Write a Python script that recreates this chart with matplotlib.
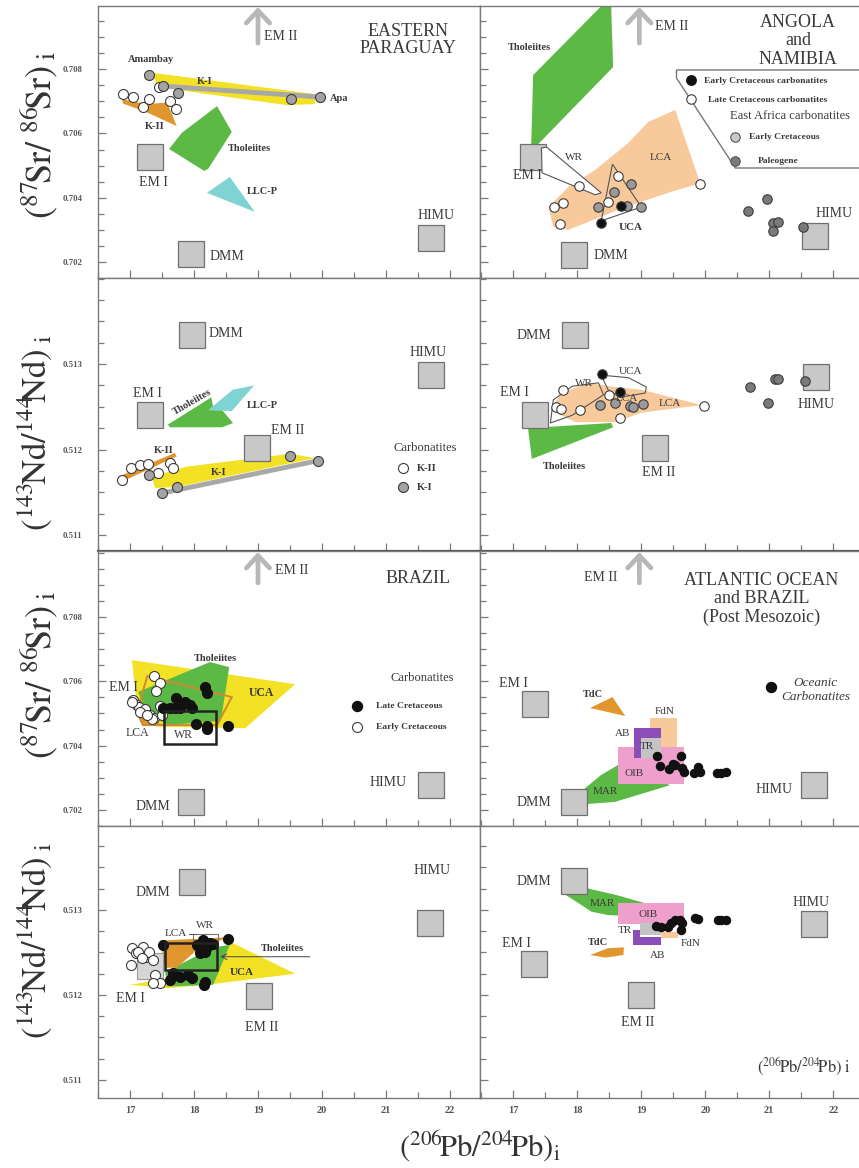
import matplotlib
matplotlib.use('Agg')
import matplotlib.pyplot as plt
from matplotlib.ticker import MultipleLocator, FixedLocator, FormatStrFormatter

plt.rcParams['font.family'] = 'serif'
plt.rcParams['font.serif'] = ['Liberation Serif', 'DejaVu Serif']
plt.rcParams['mathtext.fontset'] = 'stix'

# ---------------- data ----------------
# Eastern Paraguay, Sr
EP_SR_RES = {'EM I': (17.31, 0.70526), 'DMM': (17.95, 0.70226), 'HIMU': (21.70, 0.70276)}
EP_SR_KI_BAND = [(17.36, 0.70788), (19.89, 0.70722), (19.89, 0.70691), (19.45, 0.70688), (17.42, 0.70744)]
EP_SR_KI_LINE_X = [17.52, 19.97]
EP_SR_KI_LINE_Y = [0.70747, 0.70713]
EP_SR_KI_X = [17.30, 17.52, 17.75, 19.52, 19.97]
EP_SR_KI_Y = [0.70781, 0.70747, 0.70726, 0.70707, 0.70713]
EP_SR_KII_POLY = [(16.875, 0.70706), (17.27, 0.70691), (17.58, 0.70696), (17.73, 0.70623), (17.28, 0.70664), (16.89, 0.70693)]
EP_SR_KII_X = [16.89, 17.05, 17.20, 17.30, 17.45, 17.63, 17.72]
EP_SR_KII_Y = [0.70722, 0.70713, 0.70682, 0.70707, 0.70744, 0.70701, 0.70676]
EP_SR_THOL = [(17.61, 0.70552), (17.81, 0.70602), (18.36, 0.70685), (18.59, 0.70605), (18.22, 0.70490), (18.16, 0.70484)]
EP_SR_LLCP = [(18.20, 0.70416), (18.56, 0.70465), (18.95, 0.70357)]

# Angola and Namibia, Sr
AN_SR_RES = {'EM I': (17.31, 0.70527), 'DMM': (17.95, 0.70223), 'HIMU': (21.72, 0.70282)}
AN_SR_THOL = [(17.28, 0.70564), (17.31, 0.70781), (18.375, 0.70995), (18.53, 0.70995), (18.56, 0.70806), (17.36, 0.70561)]
AN_SR_LCA = [(17.55, 0.70372), (17.86, 0.70434), (18.28, 0.70487), (18.80, 0.70571), (19.11, 0.70636), (19.53, 0.70673),
             (19.92, 0.70446), (19.42, 0.70416), (18.75, 0.70372), (17.86, 0.70301), (17.625, 0.70310)]
AN_SR_WR = [(17.44, 0.70555), (17.52, 0.70558), (18.375, 0.70416), (18.28, 0.70410), (17.45, 0.70478)]
AN_SR_UCA = [(18.55, 0.70505), (19.0, 0.70372), (18.375, 0.70329)]
AN_SR_EARLY_X = [18.375, 18.69]
AN_SR_EARLY_Y = [0.70323, 0.70375]
AN_SR_LATE_X = [17.64, 17.78, 17.73, 18.03, 18.48, 18.64, 19.92]
AN_SR_LATE_Y = [0.70372, 0.70384, 0.70319, 0.70437, 0.70388, 0.70468, 0.70443]
AN_SR_EAEC_X = [18.33, 18.58, 18.78, 18.84, 19.0]
AN_SR_EAEC_Y = [0.70372, 0.70419, 0.70375, 0.70443, 0.70372]
AN_SR_EAPG_X = [20.67, 20.97, 21.06, 21.14, 21.06, 21.53]
AN_SR_EAPG_Y = [0.70360, 0.70397, 0.70322, 0.70326, 0.70298, 0.70310]

# Eastern Paraguay, Nd
EP_ND_RES = {'DMM': (17.97, 0.513345), 'EM I': (17.31, 0.51240), 'EM II': (18.98, 0.51202), 'HIMU': (21.70, 0.51287)}
EP_ND_THOL = [(17.59, 0.51229), (18.27, 0.51261), (18.31, 0.51246), (18.44, 0.51246), (18.61, 0.51231), (18.44, 0.51226), (17.625, 0.51226)]
EP_ND_LLCP = [(18.22, 0.51246), (18.61, 0.51270), (18.94, 0.51275), (18.59, 0.51245)]
EP_ND_KI_POLY = [(17.34, 0.51168), (17.89, 0.51180), (19.50, 0.51195), (19.89, 0.51190), (17.73, 0.51156), (17.39, 0.51155)]
EP_ND_KI_LINE_X = [17.5, 19.94]
EP_ND_KI_LINE_Y = [0.51149, 0.51187]
EP_ND_KI_X = [17.30, 17.5, 17.73, 19.5, 19.94]
EP_ND_KI_Y = [0.51170, 0.51149, 0.51156, 0.51192, 0.51187]
EP_ND_KII_POLY = [(16.875, 0.51170), (17.70, 0.51196), (17.73, 0.51192), (16.92, 0.51164)]
EP_ND_KII_X = [16.875, 17.02, 17.16, 17.28, 17.44, 17.625, 17.67]
EP_ND_KII_Y = [0.51164, 0.51178, 0.51182, 0.51183, 0.51173, 0.51184, 0.51178]

# Angola and Namibia, Nd
AN_ND_RES = {'DMM': (17.97, 0.51334), 'EM I': (17.34, 0.51240), 'EM II': (19.22, 0.51202), 'HIMU': (21.73, 0.51285)}
AN_ND_THOL = [(17.23, 0.51225), (18.53, 0.51231), (18.56, 0.51226), (17.29, 0.51189)]
AN_ND_LCA = [(17.58, 0.51246), (17.75, 0.51266), (18.17, 0.51278), (18.59, 0.51273), (19.0, 0.51270), (19.94, 0.51252),
             (19.0, 0.51243), (18.59, 0.51232), (17.98, 0.51232), (17.66, 0.51243)]
AN_ND_WR = [(17.625, 0.51258), (17.92, 0.51274), (18.33, 0.51278), (18.41, 0.51264), (17.92, 0.51240), (17.58, 0.51231)]
AN_ND_UCA = [(18.375, 0.51287), (18.80, 0.51284), (19.08, 0.51273), (19.06, 0.51266), (18.67, 0.51261), (18.48, 0.51270), (18.41, 0.51281)]
AN_ND_EARLY_X = [18.39, 18.67]
AN_ND_EARLY_Y = [0.51288, 0.51267]
AN_ND_LATE_X = [17.77, 17.66, 17.75, 18.05, 18.5, 18.66, 19.98]
AN_ND_LATE_Y = [0.51270, 0.51250, 0.51247, 0.51246, 0.51264, 0.51237, 0.51251]
AN_ND_EAEC_X = [18.36, 18.59, 18.83, 18.875, 19.02]
AN_ND_EAEC_Y = [0.51252, 0.51254, 0.51251, 0.51250, 0.51253]
AN_ND_EAPG_X = [20.70, 21.09, 21.14, 21.56, 20.98]
AN_ND_EAPG_Y = [0.51273, 0.51282, 0.51282, 0.51280, 0.51254]

# Brazil, Sr
BR_SR_RES = {'DMM': (17.96, 0.70225), 'HIMU': (21.70, 0.70277)}
BR_SR_UCA = [(17.03, 0.70666), (19.58, 0.70591), (18.80, 0.70454), (17.42, 0.70459), (17.10, 0.70537)]
BR_SR_THOL = [(17.125, 0.70567), (18.25, 0.70660), (18.55, 0.70644), (18.42, 0.70477), (17.58, 0.70464), (17.27, 0.70505)]
BR_SR_LCA = [(17.27, 0.70616), (18.59, 0.70551), (18.36, 0.70464), (17.20, 0.70464), (17.11, 0.70505)]
BR_SR_LCA_FILL = [(17.13, 0.70490), (17.55, 0.70464), (17.20, 0.70464)]
BR_SR_WR = (17.53, 18.34, 0.70405, 0.70508)
BR_SR_EARLY_X = [17.375, 17.47, 17.41, 17.05, 17.11, 17.14, 17.23, 17.31, 17.375, 17.34, 17.47, 17.5, 17.03, 17.16, 17.27]
BR_SR_EARLY_Y = [0.70617, 0.70595, 0.70570, 0.70542, 0.70526, 0.70520, 0.70514, 0.70495, 0.70486, 0.70483, 0.70523, 0.70495,
                 0.70536, 0.70505, 0.70495]
BR_SR_LATE_X = [17.52, 17.625, 17.70, 17.72, 17.78, 17.86, 17.94, 17.97, 18.17, 18.2, 18.03, 18.2, 18.2, 18.53]
BR_SR_LATE_Y = [0.70517, 0.70517, 0.70517, 0.70548, 0.70517, 0.70536, 0.70526, 0.70517, 0.70582, 0.70564, 0.70467, 0.70461,
                0.70452, 0.70461]

# Atlantic Ocean and Brazil, Sr
AT_SR_RES = {'EM I': (17.34, 0.70529), 'DMM': (17.945, 0.70225), 'HIMU': (21.70, 0.70277)}
AT_SR_TDC = [(18.2, 0.70517), (18.55, 0.70551), (18.75, 0.70492)]
AT_SR_FDN = (19.14, 19.56, 0.70377, 0.70486)
AT_SR_AB = [(18.89, 0.70361), (18.89, 0.70455), (19.31, 0.70455), (19.31, 0.70424), (19.0, 0.70424), (19.0, 0.70361)]
AT_SR_TR = (19.0, 19.31, 0.70361, 0.70424)
AT_SR_OIB = (18.64, 19.67, 0.70281, 0.70396)
AT_SR_MAR = [(18.02, 0.70237), (18.125, 0.70268), (18.375, 0.70309), (18.64, 0.70340), (19.45, 0.70277), (18.59, 0.70225), (18.125, 0.70218)]
AT_SR_OC_X = [19.25, 19.30, 19.44, 19.5, 19.53, 19.625, 19.64, 19.66, 19.83, 19.89, 19.91, 20.19, 20.25, 20.33]
AT_SR_OC_Y = [0.70368, 0.70337, 0.70327, 0.70343, 0.70340, 0.70368, 0.70330, 0.70318, 0.70315, 0.70334, 0.70318, 0.70315,
              0.70315, 0.70318]

# Brazil, Nd
BR_ND_RES = {'DMM': (17.97, 0.51333), 'EM II': (19.02, 0.51199), 'HIMU': (21.69, 0.51285)}
BR_ND_EM1 = (17.31, 0.51234)
BR_ND_UCA = [(17.0, 0.51212), (17.58, 0.51219), (18.61, 0.51261), (19.58, 0.51225), (18.2, 0.51212), (17.58, 0.51208)]
BR_ND_THOL = [(17.55, 0.51227), (18.3, 0.51256), (18.56, 0.51259), (18.3, 0.51212), (17.58, 0.51210)]
BR_ND_LCA = [(17.47, 0.51264), (18.56, 0.51268), (18.09, 0.51256), (17.73, 0.51232), (17.55, 0.51232)]
BR_ND_WR = (17.98, 18.375, 0.51262, 0.51272)
BR_ND_BOX = (17.55, 18.36, 0.51229, 0.51261)
BR_ND_EARLY_X = [17.03, 17.02, 17.09, 17.2, 17.25, 17.30, 17.36, 17.39, 17.47, 17.36, 17.125, 17.19]
BR_ND_EARLY_Y = [0.51255, 0.51235, 0.51249, 0.51256, 0.51245, 0.51251, 0.51241, 0.51224, 0.51214, 0.51214, 0.51251, 0.51244]
BR_ND_LATE_X = [17.52, 17.67, 17.625, 17.78, 17.91, 17.97, 18.05, 18.09, 18.14, 18.17, 18.25, 18.3, 18.17, 18.16, 18.53, 18.2, 18.09]
BR_ND_LATE_Y = [0.51259, 0.51226, 0.51218, 0.51221, 0.51224, 0.51220, 0.51259, 0.51255, 0.51265, 0.51251, 0.51261, 0.51260,
                0.51215, 0.51212, 0.51266, 0.51256, 0.51249]

# Atlantic Ocean and Brazil, Nd
AT_ND_RES = {'DMM': (17.95, 0.51334), 'EM I': (17.33, 0.51237), 'EM II': (18.99, 0.51200), 'HIMU': (21.70, 0.51284)}
AT_ND_MAR = [(17.75, 0.51321), (18.125, 0.51326), (18.59, 0.51318), (19.06, 0.51308), (19.11, 0.51292), (18.48, 0.51294),
             (18.22, 0.51298), (18.02, 0.51308)]
AT_ND_OIB = (18.64, 19.66, 0.51284, 0.51308)
AT_ND_TR = (18.98, 19.31, 0.51271, 0.51285)
AT_ND_AB = [(18.875, 0.51259), (18.875, 0.51276), (18.98, 0.51276), (18.98, 0.51268), (19.31, 0.51268), (19.31, 0.51259)]
AT_ND_FDN = (19.31, 19.58, 0.51267, 0.51274)
AT_ND_TDC = [(18.2, 0.51247), (18.48, 0.51255), (18.73, 0.51256), (18.72, 0.51247), (18.44, 0.51244)]
AT_ND_OC_X = [19.23, 19.31, 19.42, 19.47, 19.53, 19.61, 19.64, 19.625, 19.84, 19.89, 20.2, 20.25, 20.33]
AT_ND_OC_Y = [0.51281, 0.51280, 0.51280, 0.51285, 0.51288, 0.51288, 0.51285, 0.51276, 0.51291, 0.51289, 0.51288, 0.51288, 0.51288]

SR_TICKS = [0.702, 0.704, 0.706, 0.708]
ND_TICKS = [0.511, 0.512, 0.513]
X_TICKS = [17, 18, 19, 20, 21, 22]

# ---------------- styling ----------------
TXT = '#3a3a3a'
GREEN = '#5cb945'
YELLOW = '#f3e125'
ORANGE = '#e0962d'
PEACH = '#f7c99b'
CYAN = '#80d3d3'
BAND = '#a8a8a8'
PURPLE = '#8b4db8'
PINK = '#ef9fcb'
TRGRAY = '#c4c4c4'
SQ_FC = '#c8c8c8'
SQ_EC = '#707070'
SPINE = '#7a7a7a'


def poly(ax, pts, fc, z=2, ec='none', lw=0.0):
    xs = [p[0] for p in pts]
    ys = [p[1] for p in pts]
    ax.fill(xs, ys, facecolor=fc, edgecolor=ec, linewidth=lw, zorder=z)


def rect(ax, r, fc='none', ec='none', lw=0.0, z=2):
    x0, x1, y0, y1 = r
    poly(ax, [(x0, y0), (x1, y0), (x1, y1), (x0, y1)], fc, z=z, ec=ec, lw=lw)


def squares(ax, res, fc=SQ_FC, ec=SQ_EC):
    for name, (x, y) in res.items():
        ax.plot([x], [y], marker='s', ms=18.5, mfc=fc, mec=ec, mew=0.9, ls='none', zorder=4)


def dots(ax, xs, ys, fc, ec='#3c3c3c', ms=7.2, z=6):
    ax.plot(xs, ys, 'o', ms=ms, mfc=fc, mec=ec, mew=0.8, ls='none', zorder=z)


def lab(ax, x, y, s, size=10, ha='center', weight='normal', **kw):
    ax.text(x, y, s, fontsize=size, ha=ha, va='center', color=TXT, fontweight=weight, zorder=9, **kw)


def em2_arrow(ax, x, y0, y1):
    ax.annotate('', xy=(x, y1), xytext=(x, y0),
                arrowprops=dict(arrowstyle='->,head_length=0.45,head_width=0.42', lw=3.4,
                                color='#b8b8b8', mutation_scale=20, shrinkA=0, shrinkB=0))


# ---------------- layout ----------------
W, H = 859, 1168
fig = plt.figure(figsize=(W / 100, H / 100), dpi=100)
rows_px = [(6, 278), (278, 551), (551, 826), (826, 1098)]
cols_px = [(98, 480), (480, 859)]
XLIM = [(16.5, 16.5 + 382 / 64), (16.48, 16.48 + 379 / 64)]
YLIM = [(0.701519, 0.709953), (0.510813, 0.514006), (0.7015, 0.710053), (0.510788, 0.513988)]

axes = []
for r, (y0, y1) in enumerate(rows_px):
    row = []
    for c, (x0, x1) in enumerate(cols_px):
        ax = fig.add_axes([x0 / W, 1 - y1 / H, (x1 - x0) / W, (y1 - y0) / H])
        sr = r in (0, 2)
        ax.set_xlim(XLIM[c])
        ax.set_ylim(YLIM[r])
        ax.xaxis.set_major_locator(FixedLocator(X_TICKS))
        ax.xaxis.set_minor_locator(MultipleLocator(0.5))
        if sr:
            ax.yaxis.set_major_locator(FixedLocator(SR_TICKS))
            ax.yaxis.set_minor_locator(MultipleLocator(0.0005))
        else:
            ax.yaxis.set_major_locator(FixedLocator(ND_TICKS))
            ax.yaxis.set_minor_locator(MultipleLocator(0.00025))
        ax.yaxis.set_major_formatter(FormatStrFormatter('%.3f'))
        ax.tick_params(which='both', direction='in', color=SPINE, width=0.9)
        ax.tick_params(which='major', length=5.5)
        ax.tick_params(which='minor', length=4.5)
        ax.tick_params(axis='y', labelsize=6.3, pad=11, labelcolor='#555555', labelleft=(c == 0))
        ax.tick_params(axis='x', labelsize=7.5, pad=6, labelcolor='#555555', labelbottom=(r == 3))
        for sp in ax.spines.values():
            sp.set_color(SPINE)
            sp.set_linewidth(1.0)
        if c == 1:
            ax.spines['right'].set_visible(False)
        if r == 1:
            ax.spines['bottom'].set_linewidth(1.6)
            ax.spines['bottom'].set_color('#555555')
        plt.setp(ax.get_xticklabels(), fontweight='bold')
        plt.setp(ax.get_yticklabels(), fontweight='bold')
        row.append(ax)
    axes.append(row)

SR_LABEL = r'$(^{87}\!\mathrm{Sr}/\ ^{86}\!\mathrm{Sr})_{\ \mathrm{i}}$'
ND_LABEL = r'$(^{143}\!\mathrm{Nd}/^{144}\!\!\mathrm{Nd})_{\ \mathrm{i}}$'
PB_LABEL = r'$(^{206}\!\mathrm{Pb}/^{204}\!\mathrm{Pb})_{\mathrm{i}}$'
for xc, yc, s, fs in [(39, 135, SR_LABEL, 26), (35, 432, ND_LABEL, 25), (39, 675, SR_LABEL, 26), (35, 940, ND_LABEL, 25)]:
    fig.text(xc / W, 1 - yc / H, s, rotation=90, ha='center', va='center', fontsize=fs, color='#333333')
fig.text(480 / W, 1 - 1146 / H, PB_LABEL, ha='center', va='center', fontsize=22, color='#333333')

# ---------------- panel: Eastern Paraguay Sr ----------------
ax = axes[0][0]
poly(ax, EP_SR_KI_BAND, YELLOW)
ax.plot(EP_SR_KI_LINE_X, EP_SR_KI_LINE_Y, color=BAND, lw=3.5, solid_capstyle='round', zorder=3)
poly(ax, EP_SR_KII_POLY, ORANGE)
poly(ax, EP_SR_THOL, GREEN)
poly(ax, EP_SR_LLCP, CYAN)
squares(ax, EP_SR_RES)
dots(ax, EP_SR_KII_X, EP_SR_KII_Y, 'white', z=5)
dots(ax, EP_SR_KI_X, EP_SR_KI_Y, '#a3a3a3', z=6)
em2_arrow(ax, 19.0, 0.7088, 0.70992)
lab(ax, 19.1, 0.7090, 'EM II', ha='left')
lab(ax, 21.34, 0.7089, 'EASTERN\nPARAGUAY', size=13, linespacing=1.05)
lab(ax, 17.33, 0.70828, 'Amambay', size=7.5, weight='bold')
lab(ax, 18.16, 0.70760, 'K-I', size=7.5, weight='bold')
lab(ax, 20.12, 0.70710, 'Apa', size=7.5, weight='bold', ha='left')
lab(ax, 17.39, 0.70623, 'K-II', size=7.5, weight='bold')
lab(ax, 18.53, 0.70552, 'Tholeiites', size=7.5, weight='bold', ha='left')
lab(ax, 18.83, 0.70419, 'LLC-P', size=7.5, weight='bold', ha='left')
lab(ax, 17.36, 0.70447, 'EM I')
lab(ax, 18.25, 0.70220, 'DMM', ha='left')
lab(ax, 21.78, 0.70347, 'HIMU')

# ---------------- panel: Angola and Namibia Sr ----------------
ax = axes[0][1]
poly(ax, AN_SR_THOL, GREEN)
poly(ax, AN_SR_LCA, PEACH)
squares(ax, AN_SR_RES)
poly(ax, AN_SR_WR, 'white', z=4.5, ec='#555555', lw=0.8)
poly(ax, AN_SR_UCA, 'none', z=4.5, ec='#555555', lw=0.8)
dots(ax, AN_SR_LATE_X, AN_SR_LATE_Y, 'white', ms=6.8)
dots(ax, AN_SR_EAEC_X, AN_SR_EAEC_Y, '#9a9a9a', ms=6.8)
dots(ax, AN_SR_EAPG_X, AN_SR_EAPG_Y, '#7a7a7a', ms=6.8)
dots(ax, AN_SR_EARLY_X, AN_SR_EARLY_Y, '#111111', ms=6.8, z=7)
em2_arrow(ax, 18.97, 0.7088, 0.70992)
lab(ax, 19.22, 0.70933, 'EM II', ha='left')
lab(ax, 21.45, 0.70887, 'ANGOLA\nand\nNAMIBIA', size=13, linespacing=1.1)
lab(ax, 17.25, 0.70868, 'Tholeiites', size=7.5, weight='bold')
lab(ax, 17.95, 0.70524, 'WR', size=8)
lab(ax, 19.30, 0.70524, 'LCA', size=8)
lab(ax, 18.83, 0.70310, 'UCA', size=8, weight='bold')
lab(ax, 17.22, 0.70471, 'EM I')
lab(ax, 18.25, 0.70223, 'DMM', ha='left')
lab(ax, 22.02, 0.70353, 'HIMU')
# legend frame
poly(ax, [(19.55, 0.70797), (22.6, 0.70797), (22.6, 0.70493), (20.47, 0.70493), (19.55, 0.70772)],
     'white', z=7, ec='#777777', lw=1.0)
ax.plot([19.77], [0.70766], 'o', ms=6.8, mfc='#111111', mec='#111111', zorder=8)
ax.plot([19.77], [0.70707], 'o', ms=6.8, mfc='white', mec='#3c3c3c', mew=0.8, zorder=8)
ax.plot([20.47], [0.70589], 'o', ms=6.8, mfc='#c8c8c8', mec='#555555', mew=0.8, zorder=8)
ax.plot([20.47], [0.70515], 'o', ms=6.8, mfc='#7a7a7a', mec='#555555', mew=0.8, zorder=8)
lab(ax, 19.98, 0.70762, 'Early Cretaceous carbonatites', size=6.8, weight='bold', ha='left')
lab(ax, 20.05, 0.70704, 'Late Cretaceous carbonatites', size=6.8, weight='bold', ha='left')
lab(ax, 21.33, 0.70655, 'East Africa carbonatites', size=9)
lab(ax, 20.68, 0.70589, 'Early Cretaceous', size=6.8, weight='bold', ha='left')
lab(ax, 20.82, 0.70515, 'Paleogene', size=6.8, weight='bold', ha='left')

# ---------------- panel: Eastern Paraguay Nd ----------------
ax = axes[1][0]
poly(ax, EP_ND_THOL, GREEN)
poly(ax, EP_ND_LLCP, CYAN)
poly(ax, EP_ND_KI_POLY, YELLOW)
ax.plot(EP_ND_KI_LINE_X, EP_ND_KI_LINE_Y, color=BAND, lw=3.5, solid_capstyle='round', zorder=3)
poly(ax, EP_ND_KII_POLY, ORANGE)
squares(ax, EP_ND_RES)
dots(ax, EP_ND_KII_X, EP_ND_KII_Y, 'white', z=5)
dots(ax, EP_ND_KI_X, EP_ND_KI_Y, '#a3a3a3', z=6)
lab(ax, 18.23, 0.51336, 'DMM', ha='left')
lab(ax, 17.27, 0.51265, 'EM I')
lab(ax, 19.20, 0.51222, 'EM II', ha='left')
lab(ax, 21.66, 0.51313, 'HIMU')
lab(ax, 17.97, 0.51256, 'Tholeiites', size=7.5, weight='bold', rotation=30)
lab(ax, 18.83, 0.51251, 'LLC-P', size=7.5, weight='bold', ha='left')
lab(ax, 17.52, 0.51199, 'K-II', size=7.5, weight='bold')
lab(ax, 18.38, 0.51173, 'K-I', size=7.5, weight='bold')
lab(ax, 21.62, 0.51202, 'Carbonatites', size=9)
ax.plot([21.27], [0.51178], 'o', ms=7.2, mfc='white', mec='#3c3c3c', mew=0.8, zorder=8)
ax.plot([21.27], [0.51156], 'o', ms=7.2, mfc='#a3a3a3', mec='#3c3c3c', mew=0.8, zorder=8)
lab(ax, 21.48, 0.51178, 'K-II', size=7.5, weight='bold', ha='left')
lab(ax, 21.48, 0.51156, 'K-I', size=7.5, weight='bold', ha='left')

# ---------------- panel: Angola and Namibia Nd ----------------
ax = axes[1][1]
poly(ax, AN_ND_THOL, GREEN)
poly(ax, AN_ND_LCA, PEACH)
squares(ax, AN_ND_RES)
poly(ax, AN_ND_WR, 'none', z=4.5, ec='#555555', lw=0.8)
poly(ax, AN_ND_UCA, 'none', z=4.5, ec='#555555', lw=0.8)
lab(ax, 18.78, 0.51260, 'LCA', size=8)
dots(ax, AN_ND_LATE_X, AN_ND_LATE_Y, 'white', ms=6.8)
dots(ax, AN_ND_EAEC_X, AN_ND_EAEC_Y, '#9a9a9a', ms=6.8)
dots(ax, AN_ND_EAPG_X, AN_ND_EAPG_Y, '#7a7a7a', ms=6.8)
dots(ax, AN_ND_EARLY_X, AN_ND_EARLY_Y, '#111111', ms=6.8, z=7)
lab(ax, 17.33, 0.51333, 'DMM')
lab(ax, 17.02, 0.51267, 'EM I')
lab(ax, 19.27, 0.51173, 'EM II')
lab(ax, 21.73, 0.51253, 'HIMU')
lab(ax, 17.80, 0.51180, 'Tholeiites', size=7.5, weight='bold')
lab(ax, 19.44, 0.51254, 'LCA', size=8)
lab(ax, 18.11, 0.51277, 'WR', size=8)
lab(ax, 18.83, 0.51291, 'UCA', size=8)

# ---------------- panel: Brazil Sr ----------------
ax = axes[2][0]
poly(ax, BR_SR_UCA, YELLOW)
poly(ax, BR_SR_THOL, GREEN)
poly(ax, BR_SR_LCA_FILL, ORANGE, z=2.5)
poly(ax, BR_SR_LCA, 'none', z=3, ec='#cf8a30', lw=1.4)
squares(ax, BR_SR_RES)
dots(ax, BR_SR_EARLY_X, BR_SR_EARLY_Y, 'white', z=5)
dots(ax, BR_SR_LATE_X, BR_SR_LATE_Y, '#111111', ec='#111111', z=6)
rect(ax, BR_SR_WR, ec='#222222', lw=1.8, z=7)
em2_arrow(ax, 19.0, 0.70906, 0.71002)
lab(ax, 19.27, 0.70946, 'EM II', ha='left')
lab(ax, 21.5, 0.70921, 'BRAZIL', size=13)
lab(ax, 18.33, 0.70672, 'Tholeiites', size=7.5, weight='bold')
lab(ax, 19.05, 0.70564, 'UCA', size=8.5, weight='bold')
lab(ax, 16.90, 0.70582, 'EM I')
lab(ax, 17.12, 0.70440, 'LCA', size=8.5)
lab(ax, 17.83, 0.70433, 'WR', size=8.5)
lab(ax, 17.36, 0.70210, 'DMM')
lab(ax, 21.03, 0.70284, 'HIMU')
lab(ax, 21.56, 0.70610, 'Carbonatites', size=9)
ax.plot([20.55], [0.70523], 'o', ms=7.2, mfc='#111111', mec='#111111', zorder=8)
ax.plot([20.55], [0.70458], 'o', ms=7.2, mfc='white', mec='#3c3c3c', mew=0.8, zorder=8)
lab(ax, 20.84, 0.70523, 'Late Cretaceous', size=6.8, weight='bold', ha='left')
lab(ax, 20.84, 0.70458, 'Early Cretaceous', size=6.8, weight='bold', ha='left')

# ---------------- panel: Atlantic Ocean and Brazil Sr ----------------
ax = axes[2][1]
poly(ax, AT_SR_MAR, GREEN)
poly(ax, AT_SR_TDC, ORANGE)
rect(ax, AT_SR_FDN, fc=PEACH, z=2.2)
rect(ax, AT_SR_OIB, fc=PINK, z=2.4)
poly(ax, AT_SR_AB, PURPLE, z=2.6)
rect(ax, AT_SR_TR, fc=TRGRAY, z=2.7)
squares(ax, AT_SR_RES)
dots(ax, AT_SR_OC_X, AT_SR_OC_Y, '#111111', ec='#111111', ms=6.0)
em2_arrow(ax, 18.97, 0.70906, 0.71002)
lab(ax, 18.36, 0.70924, 'EM II')
lab(ax, 20.875, 0.70857, 'ATLANTIC OCEAN\nand BRAZIL\n(Post Mesozoic)', size=13, linespacing=1.1)
lab(ax, 17.00, 0.70592, 'EM I')
lab(ax, 17.33, 0.70222, 'DMM')
lab(ax, 21.08, 0.70265, 'HIMU')
lab(ax, 18.25, 0.70560, 'TdC', size=7.5, weight='bold')
lab(ax, 19.36, 0.70505, 'FdN', size=8)
lab(ax, 18.70, 0.70439, 'AB', size=8)
lab(ax, 19.08, 0.70396, 'TR', size=8)
lab(ax, 18.89, 0.70312, 'OIB', size=8)
lab(ax, 18.44, 0.70256, 'MAR', size=8)
ax.plot([21.02], [0.70582], 'o', ms=7.2, mfc='#111111', mec='#111111', zorder=8)
lab(ax, 21.72, 0.70573, 'Oceanic\nCarbonatites', size=9.5, style='italic')

# ---------------- panel: Brazil Nd ----------------
ax = axes[3][0]
poly(ax, BR_ND_UCA, YELLOW)
poly(ax, BR_ND_THOL, GREEN)
poly(ax, BR_ND_LCA, ORANGE, z=2.5)
ax.plot([BR_ND_EM1[0]], [BR_ND_EM1[1]], marker='s', ms=18.5, mfc='#d6d6d6', mec='#9a9a9a', mew=0.8, ls='none', zorder=3)
squares(ax, BR_ND_RES)
rect(ax, BR_ND_WR, ec='#777777', lw=0.8, z=3)
dots(ax, BR_ND_EARLY_X, BR_ND_EARLY_Y, 'white', z=5)
dots(ax, BR_ND_LATE_X, BR_ND_LATE_Y, '#111111', ec='#111111', z=6)
rect(ax, BR_ND_BOX, ec='#222222', lw=1.8, z=7)
lab(ax, 17.36, 0.51320, 'DMM')
lab(ax, 17.00, 0.51196, 'EM I')
lab(ax, 19.05, 0.51162, 'EM II')
lab(ax, 21.72, 0.51347, 'HIMU')
lab(ax, 17.72, 0.51272, 'LCA', size=8)
ax.plot([17.92, 18.03], [0.51272, 0.51272], color='#555555', lw=0.7, zorder=8)
lab(ax, 18.17, 0.51282, 'WR', size=8)
lab(ax, 19.375, 0.51255, 'Tholeiites', size=7.5, weight='bold')
ax.annotate('', xy=(18.41, 0.51245), xytext=(19.81, 0.51245),
            arrowprops=dict(arrowstyle='->', lw=0.7, color='#444444', shrinkA=0, shrinkB=0))
lab(ax, 18.75, 0.51226, 'UCA', size=8, weight='bold')

# ---------------- panel: Atlantic Ocean and Brazil Nd ----------------
ax = axes[3][1]
poly(ax, AT_ND_MAR, GREEN)
rect(ax, AT_ND_OIB, fc=PINK, z=2.4)
rect(ax, AT_ND_FDN, fc=PEACH, z=2.2)
poly(ax, AT_ND_AB, PURPLE, z=2.6)
rect(ax, AT_ND_TR, fc=TRGRAY, z=2.7)
poly(ax, AT_ND_TDC, ORANGE)
squares(ax, AT_ND_RES)
dots(ax, AT_ND_OC_X, AT_ND_OC_Y, '#111111', ec='#111111', ms=6.0)
lab(ax, 17.33, 0.51334, 'DMM')
lab(ax, 17.05, 0.51261, 'EM I')
lab(ax, 18.94, 0.51168, 'EM II')
lab(ax, 21.66, 0.51309, 'HIMU')
lab(ax, 18.39, 0.51308, 'MAR', size=8)
lab(ax, 19.10, 0.51295, 'OIB', size=8)
lab(ax, 18.75, 0.51276, 'TR', size=8)
lab(ax, 19.25, 0.51247, 'AB', size=8)
lab(ax, 19.77, 0.51260, 'FdN', size=8)
lab(ax, 18.33, 0.51262, 'TdC', size=7.5, weight='bold')
lab(ax, 21.54, 0.51115, r'$(^{206}\!\mathrm{Pb}/^{204}\!\mathrm{Pb})\ \mathrm{i}$', size=12)

fig.savefig('out.png', dpi=100)
